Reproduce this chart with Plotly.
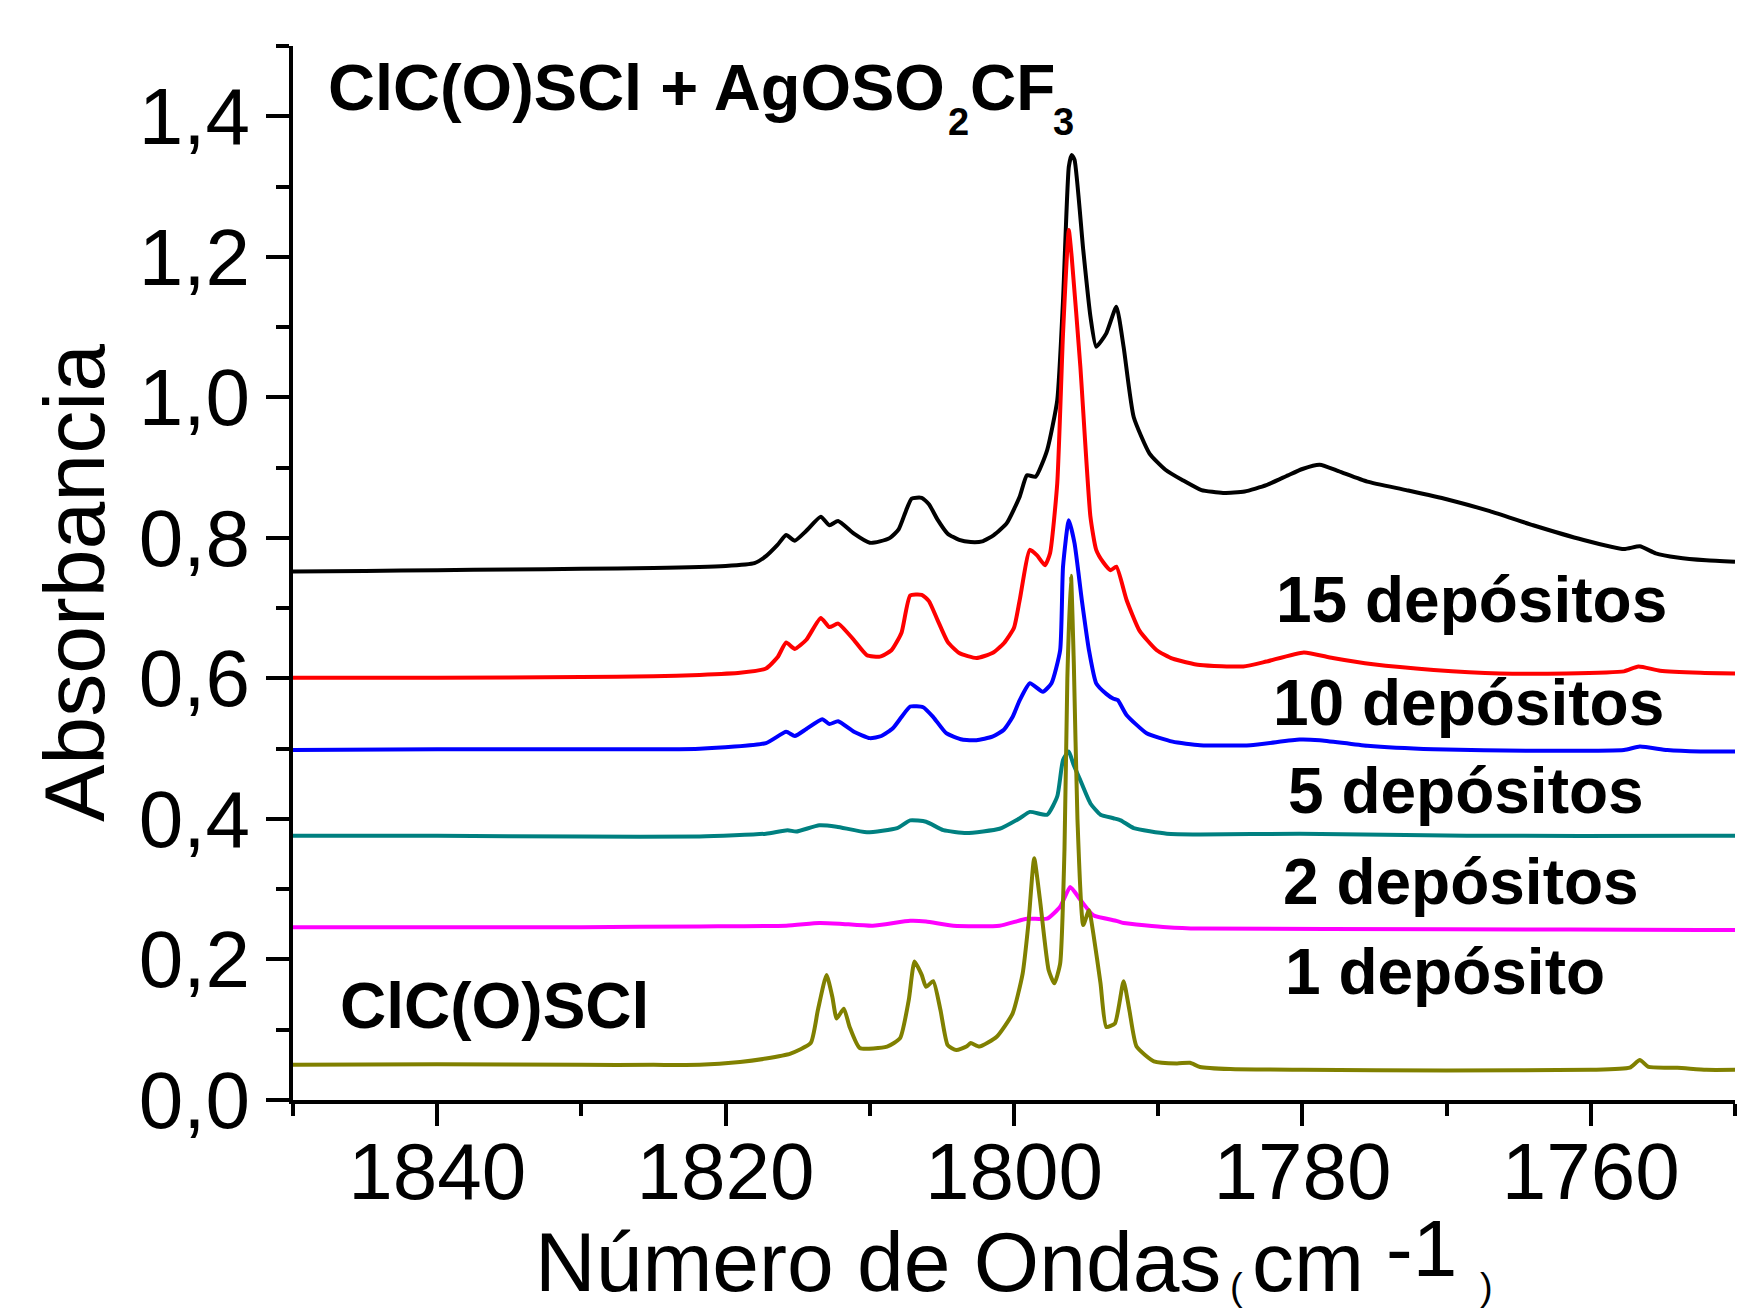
import plotly.graph_objects as go

# ---------------- data ----------------
wn_15 = [1850, 1845, 1840, 1835, 1830, 1825, 1820, 1818, 1817.2, 1816.4, 1815.8, 1815.2, 1814.4,
         1813.4, 1812.8, 1812.2, 1811.1, 1810.0, 1809.3, 1808.6, 1808.0, 1807.5, 1807.1, 1806.4,
         1805.9, 1805.3, 1804.6, 1803.8, 1803.0, 1802.2, 1801.4, 1800.5, 1799.6, 1799.1, 1798.5,
         1797.7, 1797.0, 1796.6, 1796.2, 1796.0, 1795.8, 1795.2, 1794.7, 1794.3, 1793.6, 1792.9,
         1792.4, 1791.7, 1790.6, 1789.5, 1788.3, 1787.0, 1785.5, 1784.0, 1782.5, 1781.0, 1780.0,
         1778.8, 1777.5, 1775.5, 1772.8, 1770.0, 1767.0, 1764.0, 1760.5, 1757.7, 1756.6, 1755.5,
         1754.0, 1752.0, 1750.0]
abs_15 = [0.752, 0.753, 0.754, 0.755, 0.756, 0.757, 0.760, 0.764, 0.774, 0.790, 0.804, 0.796, 0.810,
          0.830, 0.818, 0.824, 0.806, 0.793, 0.795, 0.800, 0.812, 0.838, 0.856, 0.857,
          0.848, 0.826, 0.806, 0.797, 0.794, 0.795, 0.804, 0.821, 0.859, 0.889, 0.887,
          0.925, 0.996, 1.138, 1.328, 1.345, 1.338, 1.210, 1.115, 1.072, 1.091, 1.129,
          1.072, 0.972, 0.920, 0.897, 0.882, 0.868, 0.864, 0.866, 0.875, 0.889, 0.898,
          0.904, 0.895, 0.880, 0.868, 0.855, 0.838, 0.818, 0.797, 0.784, 0.788, 0.778,
          0.772, 0.768, 0.766]

wn_10 = [1850, 1840, 1830, 1825, 1821.8, 1819, 1817.2, 1816.4, 1815.8, 1815.2, 1814.4, 1813.4,
         1812.8, 1812.2, 1811.2, 1810.2, 1809.3, 1808.5, 1807.8, 1807.2, 1806.4, 1805.9, 1805.3,
         1804.6, 1803.8, 1802.6, 1801.5, 1800.7, 1800.0, 1799.6, 1798.9, 1798.4, 1797.85, 1797.5,
         1797.0, 1796.6, 1796.2, 1796.0, 1795.4, 1794.7, 1794.3, 1793.8, 1793.3, 1792.9, 1792.2,
         1791.3, 1790.1, 1789.0, 1787.1, 1784.1, 1782.5, 1779.9, 1777.9, 1775.1, 1770.9, 1766.3,
         1761.7, 1757.7, 1756.7, 1755.2, 1752.4, 1750.0]
abs_10 = [0.601, 0.601, 0.602, 0.603, 0.605, 0.608, 0.614, 0.630, 0.651, 0.642, 0.655, 0.686,
          0.673, 0.678, 0.657, 0.633, 0.631, 0.640, 0.665, 0.718, 0.719, 0.710, 0.683,
          0.652, 0.636, 0.629, 0.636, 0.650, 0.672, 0.712, 0.783, 0.775, 0.761, 0.778,
          0.878, 1.091, 1.238, 1.200, 1.044, 0.830, 0.783, 0.765, 0.754, 0.759, 0.712,
          0.668, 0.640, 0.628, 0.619, 0.617, 0.624, 0.637, 0.629, 0.620, 0.612, 0.607,
          0.607, 0.610, 0.617, 0.611, 0.608, 0.607]

wn_5 = [1850, 1840, 1830, 1821.8, 1817.2, 1815.8, 1815.2, 1814.4, 1813.3, 1812.8, 1812.2, 1811.1,
        1810.0, 1809.2, 1808.4, 1807.8, 1807.2, 1806.3, 1805.6, 1804.7, 1803.6, 1802.6, 1801.5,
        1800.7, 1800.1, 1799.6, 1798.9, 1798.0, 1797.4, 1796.8, 1796.6, 1796.2, 1795.8, 1795.3,
        1794.8, 1794.3, 1793.6, 1793.1, 1792.8, 1792.2, 1790.8, 1789.0, 1787.1, 1783.6, 1780.2,
        1778.8, 1775.5, 1770.9, 1764.0, 1757.7, 1756.6, 1754.7, 1752.4, 1750.0]
abs_5 = [0.498, 0.499, 0.499, 0.500, 0.508, 0.524, 0.518, 0.528, 0.542, 0.535, 0.539, 0.524,
         0.515, 0.518, 0.529, 0.545, 0.560, 0.559, 0.545, 0.522, 0.513, 0.512, 0.517,
         0.527, 0.545, 0.569, 0.593, 0.581, 0.593, 0.640, 0.759, 0.825, 0.792, 0.712,
         0.640, 0.593, 0.578, 0.571, 0.569, 0.548, 0.522, 0.510, 0.505, 0.505, 0.513,
         0.512, 0.504, 0.499, 0.497, 0.498, 0.503, 0.498, 0.496, 0.496]

wn_2 = [1850, 1840, 1830, 1821.8, 1817.2, 1815.7, 1815.1, 1813.5, 1812.3, 1810.2, 1808.1, 1807.2,
        1806.1, 1804.9, 1803.3, 1801.0, 1799.6, 1798.9, 1797.7, 1797.0, 1796.6, 1796.2, 1795.9,
        1795.4, 1794.7, 1794.0, 1793.1, 1792.6, 1791.7, 1789.4, 1787.1, 1780.2, 1768.6, 1752.4,
        1750.0]
abs_2 = [0.376, 0.376, 0.375, 0.375, 0.379, 0.384, 0.382, 0.391, 0.389, 0.381, 0.387, 0.398,
         0.396, 0.384, 0.380, 0.386, 0.401, 0.410, 0.406, 0.432, 0.484, 0.496, 0.479,
         0.455, 0.422, 0.406, 0.401, 0.398, 0.387, 0.379, 0.378, 0.379, 0.376, 0.376,
         0.376]

wn_1 = [1850, 1840, 1830, 1821.8, 1815.8, 1813.5, 1812.1, 1809.8, 1807.2, 1806.1, 1804.2, 1801.0,
        1799.1, 1797.7, 1796.8, 1796.1, 1795.4, 1794.5, 1792.9, 1792.4, 1789.4, 1787.1, 1770.0,
        1752.4, 1750.0]
abs_1 = [0.246, 0.246, 0.246, 0.247, 0.248, 0.252, 0.251, 0.248, 0.255, 0.254, 0.248, 0.248,
         0.258, 0.258, 0.275, 0.303, 0.285, 0.263, 0.255, 0.252, 0.246, 0.244, 0.243,
         0.242, 0.242]

wn_pure = [1850, 1840, 1830, 1825, 1821.8, 1819, 1817.2, 1815.5, 1814.1, 1813.6, 1813.0, 1812.6,
           1812.3, 1811.8, 1811.4, 1810.7, 1808.8, 1807.9, 1807.3, 1806.9, 1806.4, 1806.1, 1805.6,
           1805.1, 1804.6, 1804.0, 1803.3, 1803.0, 1802.4, 1801.2, 1800.1, 1799.4, 1799.0, 1798.6,
           1798.2, 1797.6, 1797.2, 1796.8, 1796.5, 1796.3, 1796.05, 1795.85, 1795.6, 1795.2,
           1794.8, 1794.5, 1794.0, 1793.6, 1793.0, 1792.4, 1792.0, 1791.5, 1790.3, 1788.7,
           1787.8, 1787.1, 1785.0, 1780.0, 1770.0, 1760.0, 1757.3, 1756.6, 1756.0, 1754.0,
           1752.0, 1750.0]
abs_pure = [0.050, 0.051, 0.050, 0.050, 0.050, 0.054, 0.059, 0.066, 0.081, 0.128, 0.178, 0.147,
            0.116, 0.130, 0.104, 0.074, 0.076, 0.088, 0.142, 0.197, 0.178, 0.161, 0.169,
            0.128, 0.078, 0.071, 0.076, 0.081, 0.076, 0.090, 0.123, 0.180, 0.251, 0.344,
            0.285, 0.185, 0.166, 0.194, 0.356, 0.600, 0.746, 0.620, 0.400, 0.249,
            0.270, 0.237, 0.166, 0.104, 0.109, 0.169, 0.128, 0.076, 0.055, 0.052,
            0.053, 0.047, 0.044, 0.043, 0.042, 0.043, 0.046, 0.057, 0.047, 0.046,
            0.043, 0.043]

series_names = ["15 depósitos", "10 depósitos", "5 depósitos", "2 depósitos", "1 depósito", "ClC(O)SCl"]
series_colors = ["#000000", "#FF0000", "#0000FF", "#008080", "#FF00FF", "#808000"]
series_x = [wn_15, wn_10, wn_5, wn_2, wn_1, wn_pure]
series_y = [abs_15, abs_10, abs_5, abs_2, abs_1, abs_pure]

x_ticks = [1840, 1820, 1800, 1780, 1760]
y_ticks = [0.0, 0.2, 0.4, 0.6, 0.8, 1.0, 1.2, 1.4]

# ---------------- layout geometry (pixels) ----------------
W, H = 1737, 1310
L, R, T, B = 293, 1735, 46, 1100
FONT = "Liberation Sans, Arial, Helvetica, sans-serif"

fig = go.Figure()
for xs, ys, nm, col in zip(series_x, series_y, series_names, series_colors):
    fig.add_trace(go.Scatter(x=xs, y=ys, mode="lines", name=nm,
                             line=dict(color=col, width=4, shape="spline", smoothing=0.5),
                             showlegend=False))


def paper(px, py):
    return (px - L) / (R - L), (B - py) / (B - T)


annos = []


def label(text, left, baseline, size, bold=True, anchor="left"):
    x, y = paper(left, baseline - 0.3465 * size)
    annos.append(dict(text=text, x=x, y=y, xref="paper", yref="paper",
                      xanchor=anchor, yanchor="middle", showarrow=False,
                      borderpad=0, borderwidth=0,
                      font=dict(family=FONT, size=size, color="black",
                                weight="bold" if bold else "normal")))


# chart labels
label("ClC(O)SCl + AgOSO", 328, 110, 65)
label("2", 948, 135, 38)
label("CF", 970, 110, 64)
label("3", 1053, 135, 38)
label("ClC(O)SCl", 340, 1028, 64)
label("15 depósitos", 1276, 622, 64)
label("10 depósitos", 1273, 725, 64)
label("5 depósitos", 1288, 813, 64)
label("2 depósitos", 1283, 904, 64)
label("1 depósito", 1285, 994, 64)

# x axis title (Origin-style mixed sizes)
label("Número de Ondas", 535, 1291, 84, bold=False)
label("(", 1230, 1300, 38, bold=False)
label("cm", 1252, 1291, 84, bold=False)
label("-1", 1386, 1276, 80, bold=False)
label(")", 1480, 1300, 38, bold=False)

# y axis title
yx, yy = paper(74, 583)
annos.append(dict(text="Absorbancia", x=yx, y=yy, xref="paper", yref="paper",
                  xanchor="center", yanchor="middle", showarrow=False, textangle=-90,
                  borderpad=0, borderwidth=0,
                  font=dict(family=FONT, size=86, color="black")))

fig.update_layout(
    width=W, height=H,
    margin=dict(l=L, r=W - R, t=T, b=H - B, autoexpand=False),
    paper_bgcolor="white", plot_bgcolor="white",
    separators=",.",
    annotations=annos,
    font=dict(family=FONT, color="black"),
)

fig.update_xaxes(
    range=[1850, 1750], tickmode="array", tickvals=x_ticks,
    ticktext=[str(v) for v in x_ticks],
    ticks="outside", ticklen=22, tickwidth=4, tickcolor="black",
    ticklabelstandoff=-23,
    showline=True, linewidth=4, linecolor="black", mirror=False,
    showgrid=False, zeroline=False,
    tickfont=dict(family=FONT, size=80, color="black"),
    minor=dict(tickmode="array", tickvals=[1850, 1830, 1810, 1790, 1770, 1750],
               ticks="outside", ticklen=12, tickwidth=4, tickcolor="black", showgrid=False),
)
fig.update_yaxes(
    range=[0, 1.5], tickmode="array", tickvals=y_ticks,
    tickformat=".1f",
    ticks="outside", ticklen=23, tickwidth=4, tickcolor="black",
    showline=True, linewidth=4, linecolor="black", mirror=False,
    showgrid=False, zeroline=False,
    tickfont=dict(family=FONT, size=80, color="black"),
    minor=dict(tickmode="array", tickvals=[0.1, 0.3, 0.5, 0.7, 0.9, 1.1, 1.3, 1.5],
               ticks="outside", ticklen=13, tickwidth=4, tickcolor="black", showgrid=False),
)

fig.write_html("out.html")
